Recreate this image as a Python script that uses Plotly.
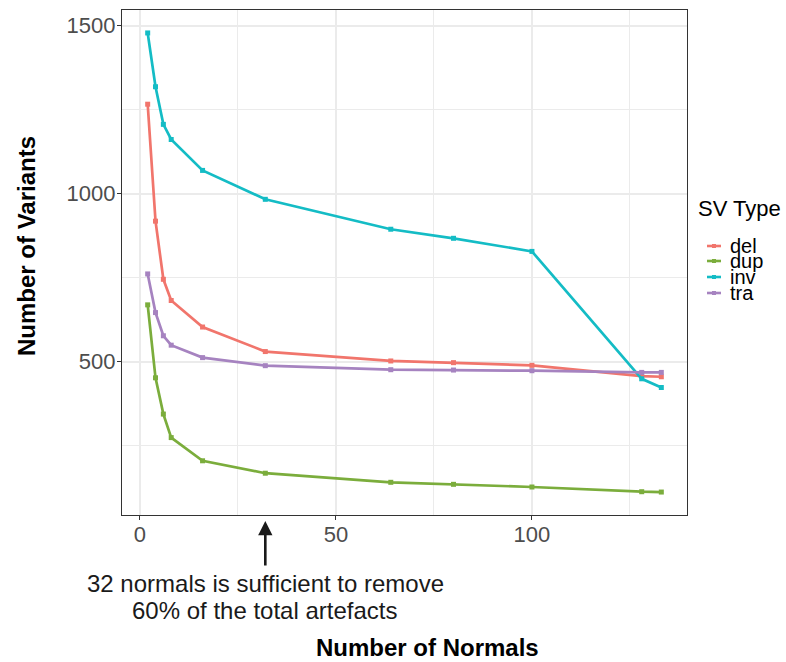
import plotly.graph_objects as go

normals = [2, 4, 6, 8, 16, 32, 64, 80, 100, 128, 133]
del_counts = [1266, 918, 745, 682, 603, 530, 502, 497, 489, 457, 455]
dup_counts = [669, 452, 344, 274, 205, 168, 141, 135, 127, 113, 112]
inv_counts = [1478, 1318, 1206, 1161, 1069, 983, 894, 867, 828, 449, 423]
tra_counts = [761, 646, 577, 549, 512, 488, 476, 475, 473, 468, 468]
sv_types = ["del", "dup", "inv", "tra"]
colors = ["#F1756C", "#7BAD3C", "#14BCC5", "#A683C0"]
series = [del_counts, dup_counts, inv_counts, tra_counts]

FONT = "Liberation Sans, Arial, Helvetica, sans-serif"
W, H = 786, 662
L, R, T, B = 122, 99, 10, 147
PW, PH = W - L - R, H - T - B


def px(xp):
    return (xp - L) / PW


def py(yp):
    return (H - B - yp) / PH


fig = go.Figure()
for name, vals, col in zip(sv_types, series, colors):
    fig.add_trace(go.Scatter(
        x=normals, y=vals, name=name, mode="lines+markers",
        line=dict(color=col, width=2.7),
        marker=dict(color=col, size=5, symbol="square"),
        showlegend=False,
    ))

grid = "#EBEBEB"
fig.update_xaxes(
    range=[-4.55, 139.55], tick0=0, dtick=50,
    showgrid=True, gridcolor=grid, gridwidth=1.6,
    minor=dict(dtick=25, tick0=0, showgrid=True, gridcolor=grid, gridwidth=0.8),
    zeroline=False, showline=True, linecolor="#333333", linewidth=1.4, mirror=True,
    ticks="outside", ticklen=4, tickcolor="#333333", tickwidth=1.2,
    ticklabelstandoff=-5,
    tickfont=dict(family=FONT, size=22, color="#4D4D4D"),
)
fig.update_yaxes(
    range=[43.7, 1546.3], tick0=0, dtick=500,
    showgrid=True, gridcolor=grid, gridwidth=1.6,
    minor=dict(dtick=250, tick0=0, showgrid=True, gridcolor=grid, gridwidth=0.8),
    zeroline=False, showline=True, linecolor="#333333", linewidth=1.4, mirror=True,
    ticks="outside", ticklen=4, tickcolor="#333333", tickwidth=1.2,
    ticklabelstandoff=-3,
    tickfont=dict(family=FONT, size=22, color="#4D4D4D"),
)

ann = []
# axis titles
ann.append(dict(text="Number of Normals", xref="paper", yref="paper",
                x=px(427), y=py(647), showarrow=False, xanchor="center", yanchor="middle",
                font=dict(family=FONT, size=24, color="black", weight="bold")))
ann.append(dict(text="Number of Variants", xref="paper", yref="paper",
                x=px(27), y=py(246), showarrow=False, xanchor="center", yanchor="middle",
                textangle=-90,
                font=dict(family=FONT, size=24, color="black", weight="bold")))
# arrow
ann.append(dict(text="", xref="x", yref="paper", x=32, y=py(521),
                ax=0, ay=46, axref="pixel", ayref="pixel", showarrow=True,
                arrowhead=2, arrowsize=1.1, arrowwidth=2.6, arrowcolor="#1A1A1A"))
# note
ann.append(dict(text="32 normals is sufficient to remove", xref="x", yref="paper",
                x=32, y=py(583), showarrow=False, xanchor="center", yanchor="middle",
                font=dict(family=FONT, size=24, color="#1A1A1A")))
ann.append(dict(text="60% of the total artefacts", xref="x", yref="paper",
                x=32, y=py(610), showarrow=False, xanchor="center", yanchor="middle",
                font=dict(family=FONT, size=24, color="#1A1A1A")))
# legend
ann.append(dict(text="SV Type", xref="paper", yref="paper", x=px(696), y=py(208),
                showarrow=False, xanchor="left", yanchor="middle",
                font=dict(family=FONT, size=22, color="black")))
shapes = []
leg_y = [246, 261, 277, 293]
for name, col, yy in zip(sv_types, colors, leg_y):
    ann.append(dict(text=name, xref="paper", yref="paper", x=px(728), y=py(yy),
                    showarrow=False, xanchor="left", yanchor="middle",
                    font=dict(family=FONT, size=20, color="black")))
    shapes.append(dict(type="line", xref="paper", yref="paper",
                       x0=px(707), x1=px(721), y0=py(yy), y1=py(yy),
                       line=dict(color=col, width=2.6)))
    shapes.append(dict(type="rect", xref="paper", yref="paper",
                       x0=px(712), x1=px(716), y0=py(yy + 2), y1=py(yy - 2),
                       line=dict(width=0), fillcolor=col))

fig.update_layout(
    width=W, height=H,
    margin=dict(l=L, r=R, t=T, b=B),
    paper_bgcolor="white", plot_bgcolor="white",
    annotations=ann, shapes=shapes,
    showlegend=False,
)

fig.write_html("out.html")
